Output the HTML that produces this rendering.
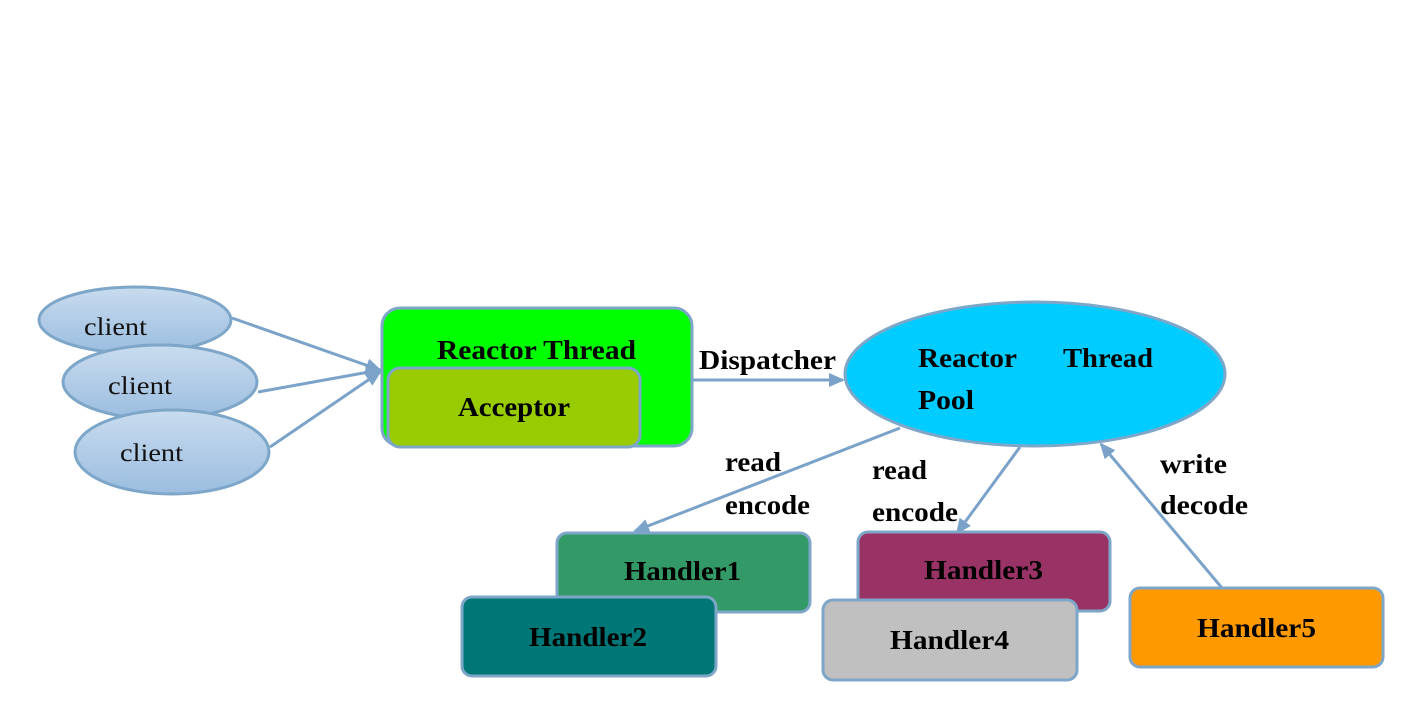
<!DOCTYPE html>
<html><head><style>body{margin:0;background:#fff}svg{display:block}text{font-family:"Liberation Serif",serif}</style></head><body>
<svg width="1421" height="724" viewBox="0 0 1421 724" xmlns="http://www.w3.org/2000/svg">
<defs>
<marker id="b" markerWidth="16" markerHeight="14" refX="14" refY="7" orient="auto" markerUnits="userSpaceOnUse"><path d="M0,0 L16,7 L0,14 z" fill="#7ba3c9"/></marker>
<linearGradient id="g" x1="0" y1="0" x2="0" y2="1"><stop offset="0" stop-color="#c9dcef"/><stop offset="1" stop-color="#9bbde0"/></linearGradient></defs>
<g stroke="#7ea6c8" stroke-width="3">
<ellipse cx="135" cy="320" rx="96" ry="33" fill="url(#g)"/>
<ellipse cx="160" cy="382" rx="97" ry="37" fill="url(#g)"/>
<ellipse cx="172" cy="452" rx="97" ry="42" fill="url(#g)"/>
</g>
<g stroke="#7ba3c9" stroke-width="3" fill="none">
<line x1="232" y1="318" x2="380" y2="370" marker-end="url(#b)"/>
<line x1="258" y1="392" x2="380" y2="370" marker-end="url(#b)"/>
<line x1="270" y1="447" x2="380" y2="372" marker-end="url(#b)"/>
<line x1="692" y1="380" x2="843" y2="380" marker-end="url(#b)"/>
<line x1="900" y1="428" x2="635" y2="531" marker-end="url(#b)"/>
<line x1="1020" y1="447" x2="957" y2="533" marker-end="url(#b)"/>
<line x1="1222" y1="588" x2="1101" y2="444" marker-end="url(#b)"/>
</g>
<g stroke="#7ea6c8" stroke-width="3">
<rect x="382" y="308" width="310" height="138" rx="18" fill="#00ff00"/>
<rect x="388" y="368" width="252" height="79" rx="12" fill="#99cc00"/>
<ellipse cx="1035" cy="374" rx="190" ry="72" fill="#00ccff"/>
<rect x="557" y="533" width="253" height="79" rx="10" fill="#339966"/>
<rect x="462" y="597" width="254" height="79" rx="10" fill="#007777"/>
<rect x="858" y="532" width="252" height="79" rx="10" fill="#993366"/>
<rect x="823" y="600" width="254" height="80" rx="10" fill="#c0c0c0"/>
<rect x="1130" y="588" width="253" height="79" rx="10" fill="#ff9900"/>
</g>
<g font-size="25" fill="#111" lengthAdjust="spacingAndGlyphs">
<text x="84" y="335" textLength="63" lengthAdjust="spacingAndGlyphs">client</text>
<text x="108" y="394" textLength="64" lengthAdjust="spacingAndGlyphs">client</text>
<text x="120" y="461" textLength="63" lengthAdjust="spacingAndGlyphs">client</text>
</g>
<g font-size="27" font-weight="bold" fill="#000">
<text x="437" y="359" textLength="199" lengthAdjust="spacingAndGlyphs">Reactor Thread</text>
<text x="458" y="416" textLength="112" lengthAdjust="spacingAndGlyphs">Acceptor</text>
<text x="699" y="369" textLength="137" lengthAdjust="spacingAndGlyphs">Dispatcher</text>
<text x="918" y="367" textLength="99" lengthAdjust="spacingAndGlyphs">Reactor</text>
<text x="1063" y="367" textLength="90" lengthAdjust="spacingAndGlyphs">Thread</text>
<text x="918" y="409" textLength="56" lengthAdjust="spacingAndGlyphs">Pool</text>
<text x="725" y="471" textLength="56" lengthAdjust="spacingAndGlyphs">read</text>
<text x="725" y="514" textLength="85" lengthAdjust="spacingAndGlyphs">encode</text>
<text x="872" y="479" textLength="55" lengthAdjust="spacingAndGlyphs">read</text>
<text x="872" y="521" textLength="86" lengthAdjust="spacingAndGlyphs">encode</text>
<text x="1160" y="473" textLength="67" lengthAdjust="spacingAndGlyphs">write</text>
<text x="1160" y="514" textLength="88" lengthAdjust="spacingAndGlyphs">decode</text>
<text x="624" y="580" textLength="117" lengthAdjust="spacingAndGlyphs">Handler1</text>
<text x="529" y="646" textLength="118" lengthAdjust="spacingAndGlyphs">Handler2</text>
<text x="924" y="579" textLength="119" lengthAdjust="spacingAndGlyphs">Handler3</text>
<text x="890" y="649" textLength="119" lengthAdjust="spacingAndGlyphs">Handler4</text>
<text x="1197" y="637" textLength="119" lengthAdjust="spacingAndGlyphs">Handler5</text>
</g>
</svg>
</body></html>
